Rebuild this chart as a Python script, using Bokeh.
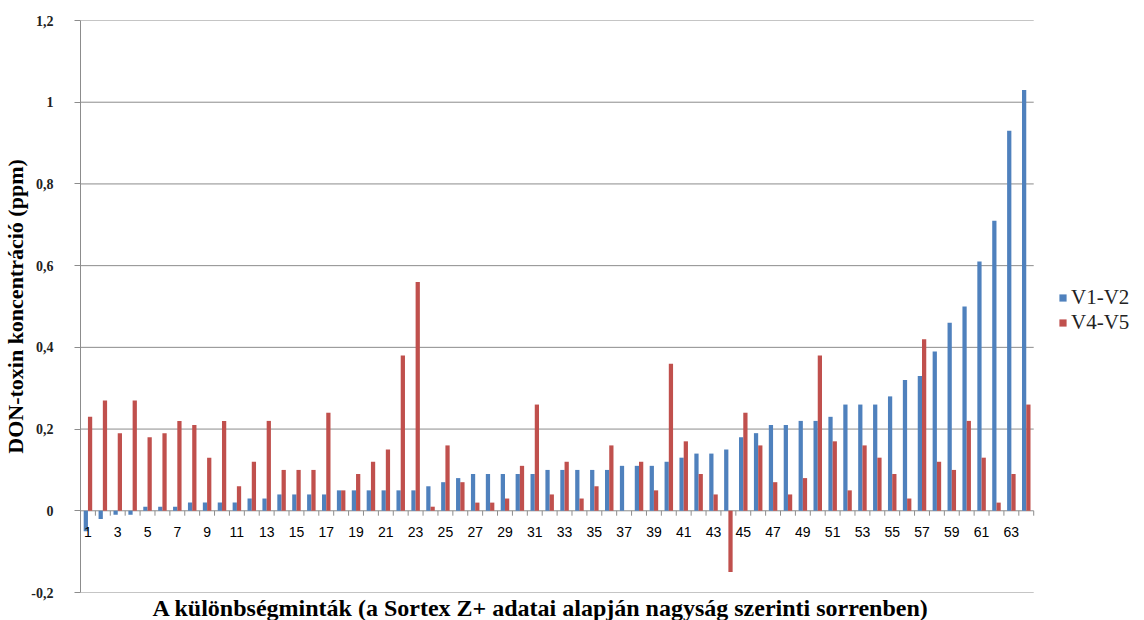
import numpy as np
from bokeh.plotting import figure
from bokeh.models import (Range1d, FixedTicker, CustomJSTickFormatter, Legend,
                          LegendItem, ColumnDataSource, Title)
from bokeh.core.properties import value
from bokeh.embed import file_html
from bokeh.resources import INLINE

# ---------------- data ----------------
samples = list(range(1, 65))
v1_v2 = [-0.05, -0.02, -0.01, -0.01, 0.01, 0.01, 0.01, 0.02, 0.02, 0.02,
         0.02, 0.03, 0.03, 0.04, 0.04, 0.04, 0.04, 0.05, 0.05, 0.05,
         0.05, 0.05, 0.05, 0.06, 0.07, 0.08, 0.09, 0.09, 0.09, 0.09,
         0.09, 0.10, 0.10, 0.10, 0.10, 0.10, 0.11, 0.11, 0.11, 0.12,
         0.13, 0.14, 0.14, 0.15, 0.18, 0.19, 0.21, 0.21, 0.22, 0.22,
         0.23, 0.26, 0.26, 0.26, 0.28, 0.32, 0.33, 0.39, 0.46, 0.50,
         0.61, 0.71, 0.93, 1.03]
v4_v5 = [0.23, 0.27, 0.19, 0.27, 0.18, 0.19, 0.22, 0.21, 0.13, 0.22,
         0.06, 0.12, 0.22, 0.10, 0.10, 0.10, 0.24, 0.05, 0.09, 0.12,
         0.15, 0.38, 0.56, 0.01, 0.16, 0.07, 0.02, 0.02, 0.03, 0.11,
         0.26, 0.04, 0.12, 0.03, 0.06, 0.16, 0.00, 0.12, 0.05, 0.36,
         0.17, 0.09, 0.04, -0.15, 0.24, 0.16, 0.07, 0.04, 0.08, 0.38,
         0.17, 0.05, 0.16, 0.13, 0.09, 0.03, 0.42, 0.12, 0.10, 0.22,
         0.13, 0.02, 0.09, 0.26]
y_ticks = [-0.2, 0.0, 0.2, 0.4, 0.6, 0.8, 1.0, 1.2]
x_tick_labels = [str(i) for i in range(1, 64, 2)]
series_names = ["V1-V2", "V4-V5"]
y_title = "DON-toxin koncentráció (ppm)"
x_title = "A különbségminták (a Sortex Z+ adatai alapján nagyság szerinti sorrenben)"

BLUE = "#4F81BD"
RED = "#C0504D"
GRID = "#8C8C8C"

# ---------------- layout ----------------
W, H = 1144, 620
LEFT = 78           # frame left (px)
TOP = 20
BOTTOM = 26
CAT_AREA = 955      # px used by the 64 categories
FRAME_W = W - LEFT
FRAME_H = H - TOP - BOTTOM
n = len(samples)
x_start = 0.5
x_end = x_start + n * FRAME_W / CAT_AREA

p = figure(width=W, height=H, output_backend="svg", toolbar_location=None,
           x_range=Range1d(x_start, x_end), y_range=Range1d(-0.2, 1.2),
           min_border_left=LEFT, min_border_right=0, min_border_top=TOP,
           min_border_bottom=BOTTOM)
p.outline_line_color = None
p.background_fill_color = "white"
p.border_fill_color = "white"

# horizontal grid lines, only across the category area
p.xgrid.visible = False
p.ygrid.visible = False
p.segment(x0=[x_start] * len(y_ticks), x1=[n + 0.5] * len(y_ticks),
          y0=y_ticks, y1=y_ticks, line_color=GRID, line_width=1)

bw = 1 / 3.5
x = np.array(samples, dtype=float)
src = ColumnDataSource(dict(xb=x - bw / 2, xr=x + bw / 2, b=v1_v2, r=v4_v5))
rb = p.vbar(x="xb", top="b", bottom=0, width=bw, source=src,
            fill_color=BLUE, line_color=None)
rr = p.vbar(x="xr", top="r", bottom=0, width=bw, source=src,
            fill_color=RED, line_color=None)

# y axis
p.yaxis.ticker = FixedTicker(ticks=y_ticks)
p.yaxis.formatter = CustomJSTickFormatter(
    code="var s = String(Number(tick.toFixed(1))); return s.replace('.', ',');")
p.yaxis.axis_line_color = GRID
p.yaxis.major_tick_line_color = GRID
p.yaxis.major_tick_out = 6
p.yaxis.major_tick_in = 0
p.yaxis.minor_tick_line_color = None
p.yaxis.major_label_standoff = 21
p.yaxis.major_label_text_font = "Liberation Serif"
p.yaxis.major_label_text_font_style = "bold"
p.yaxis.major_label_text_font_size = "14px"
p.yaxis.major_label_text_color = "#222222"
p.yaxis.axis_label = y_title
p.yaxis.axis_label_text_font = "Liberation Serif"
p.yaxis.axis_label_text_font_style = "bold"
p.yaxis.axis_label_text_font_size = "22px"
p.yaxis.axis_label_text_color = "black"
p.yaxis.axis_label_standoff = 0

# no bottom axis; the x title is a title below the plot
p.xaxis.visible = False
xt = Title(text=x_title, align="left", offset=72, standoff=0,
           text_font="Liberation Serif", text_font_style="bold",
           text_font_size="24px", text_color="black")
p.add_layout(xt, "below")

# tick marks at category boundaries along the zero line
bounds = np.arange(0.5, n + 1, 1.0)
p.segment(x0=bounds, y0=np.zeros_like(bounds), x1=bounds,
          y1=np.full_like(bounds, -0.012), line_color=GRID, line_width=1)

# category labels under the zero line
lab_x = [int(t) for t in x_tick_labels]
p.text(x=lab_x, y=[0] * len(lab_x), text=x_tick_labels, text_align="center",
       text_baseline="middle", y_offset=21, text_font=value("Liberation Sans"),
       text_font_size="14px", text_color="black")

legend = Legend(items=[LegendItem(label=series_names[0], renderers=[rb]),
                       LegendItem(label=series_names[1], renderers=[rr])],
                location=(978, 257), orientation="vertical")
legend.border_line_color = None
legend.background_fill_alpha = 0
legend.label_text_font = "Liberation Serif"
legend.label_text_font_size = "21px"
legend.label_text_color = "#222222"
legend.label_height = 20
legend.glyph_width = 9
legend.glyph_height = 9
legend.label_standoff = 4
legend.spacing = 0
legend.padding = 4
legend.margin = 0
p.add_layout(legend)

open("out.html", "w").write(file_html(p, INLINE))
